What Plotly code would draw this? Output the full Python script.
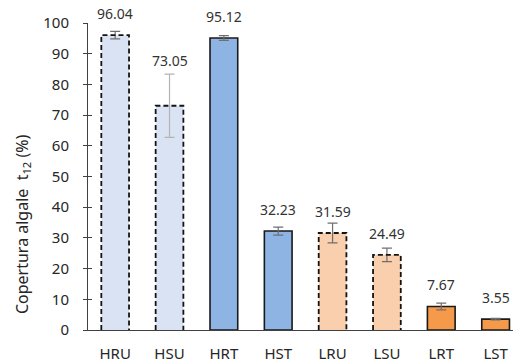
import plotly.graph_objects as go

categories = ["HRU", "HSU", "HRT", "HST", "LRU", "LSU", "LRT", "LST"]
values = [96.04, 73.05, 95.12, 32.23, 31.59, 24.49, 7.67, 3.55]
errors = [1.2, 10.3, 0.8, 1.3, 3.2, 2.2, 1.1, 0.25]
fills = ["#dae3f3", "#dae3f3", "#8eb4e3", "#8eb4e3",
         "#f9cfad", "#f9cfad", "#f59a4a", "#f59a4a"]
dashed = [True, True, False, False, True, True, False, False]
err_colors = ["#6f6f6f", "#b4b4b4", "#6f6f6f", "#6f6f6f",
              "#6f6f6f", "#6f6f6f", "#6f6f6f", "#6f6f6f"]

FONT = "Noto Sans"
BAR_W = 0.51

fig = go.Figure()
for i, (cat, v, e, c, d, ec) in enumerate(zip(categories, values, errors, fills, dashed, err_colors)):
    fig.add_trace(go.Bar(
        x=[i], y=[v], width=BAR_W,
        marker=dict(color=c, line=dict(width=0 if d else 1.6, color="#1a1a1a")),
        error_y=dict(type="data", array=[e], color=ec, thickness=1.2, width=5),
        showlegend=False, hoverinfo="skip",
    ))
    if d:
        h = BAR_W / 2
        fig.add_trace(go.Scatter(
            x=[i - h, i - h, i + h, i + h], y=[0, v, v, 0], mode="lines",
            line=dict(color="#141414", width=1.8, dash="5px,3px"),
            showlegend=False, hoverinfo="skip",
        ))
    big = e * 3.07 > 12
    fig.add_annotation(
        x=i, y=(v + e) if big else v, text=f"{v:.2f}", showarrow=False,
        yanchor="bottom", yshift=2 if big else 10,
        font=dict(family=FONT, size=14, color="#333333"),
    )

# axis title drawn as a rotated annotation so it can sit below the plot centre
fig.add_annotation(
    xref="paper", yref="paper", x=0, y=0.345, xshift=-66,
    xanchor="center", yanchor="middle",
    text="Copertura algale  t<sub>12</sub> (%)", textangle=-90, showarrow=False,
    font=dict(family=FONT, size=16, color="#262626"),
)

axis_color = "#404040"
fig.update_layout(
    width=513, height=362,
    margin=dict(l=88, r=0, t=23, b=32),
    paper_bgcolor="white", plot_bgcolor="white",
    barmode="overlay",
    xaxis=dict(
        range=[-0.5, 7.32], tickmode="array",
        tickvals=list(range(len(categories))), ticktext=categories,
        showline=True, linecolor=axis_color, linewidth=1, ticks="",
        showgrid=False, zeroline=False,
        tickfont=dict(family=FONT, size=15, color="#262626"),
        ticklabelstandoff=10,
    ),
    yaxis=dict(
        range=[0, 100], tickvals=list(range(0, 101, 10)),
        showline=True, linecolor=axis_color, linewidth=1,
        ticks="outside", ticklen=4, tickcolor=axis_color,
        showgrid=False, zeroline=False,
        tickfont=dict(family=FONT, size=15, color="#262626"),
        ticklabelstandoff=11,
    ),
    yaxis2=dict(
        range=[0, 100], tickvals=list(range(0, 101, 10)), overlaying="y",
        ticks="inside", ticklen=4, tickcolor=axis_color, showticklabels=False,
        showgrid=False, zeroline=False, showline=False,
    ),
)
fig.add_trace(go.Scatter(x=[None], y=[None], yaxis="y2", showlegend=False, hoverinfo="skip"))

fig.write_html("out.html")
